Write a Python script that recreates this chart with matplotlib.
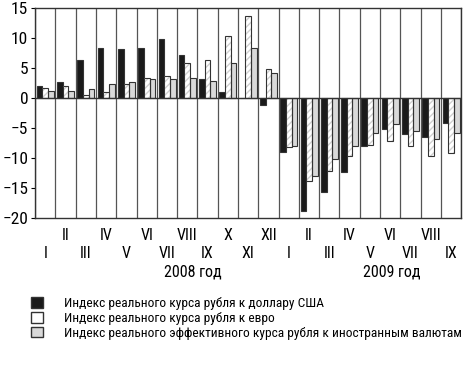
import matplotlib.pyplot as plt
import numpy as np
from matplotlib.patches import Patch
from matplotlib import font_manager

names = {f.name for f in font_manager.fontManager.ttflist}
prefs = ['Liberation Sans Narrow', 'Arial Narrow', 'Roboto Condensed', 'PT Sans Narrow',
         'Open Sans Condensed', 'Fira Sans Condensed', 'IBM Plex Sans Condensed',
         'Noto Sans Condensed', 'Archivo Narrow']
fam = next((p for p in prefs if p in names), 'DejaVu Sans')
plt.rcParams['font.family'] = [fam, 'DejaVu Sans']

months = ['I', 'II', 'III', 'IV', 'V', 'VI', 'VII', 'VIII', 'IX', 'X', 'XI', 'XII',
          'I', 'II', 'III', 'IV', 'V', 'VI', 'VII', 'VIII', 'IX']
usd = [2.0, 2.7, 6.4, 8.4, 8.1, 8.4, 9.8, 7.1, 3.2, 1.0, 0.0, -1.2,
       -9.0, -18.9, -15.6, -12.3, -8.0, -5.1, -6.0, -6.5, -4.1]
eur = [1.7, 2.0, 0.5, 1.0, 2.3, 3.4, 3.6, 5.8, 6.3, 10.4, 13.7, 4.9,
       -8.2, -13.9, -12.2, -9.7, -7.8, -7.2, -8.0, -9.7, -9.2]
eff = [1.2, 1.2, 1.5, 2.3, 2.7, 3.2, 3.2, 3.4, 2.9, 5.9, 8.4, 4.2,
       -8.0, -13.0, -10.2, -8.0, -5.8, -4.3, -5.5, -6.8, -5.8]
labels = ['Индекс реального курса рубля к доллару США',
          'Индекс реального курса рубля к евро',
          'Индекс реального эффективного курса рубля к иностранным валютам']

x = np.arange(len(months))
w = 0.28

fig = plt.figure(figsize=(4.75, 3.65), dpi=100)
ax = fig.add_axes([0.074, 0.403, 0.897, 0.575])

edge = '#333333'
ax.bar(x - w, usd, w, color='#1a1a1a', edgecolor=edge, linewidth=0.8, zorder=3)
ax.bar(x, eur, w, color='white', hatch='/////', edgecolor='#d0d0d0', linewidth=0, zorder=3)
ax.bar(x, eur, w, fill=False, edgecolor=edge, linewidth=0.8, zorder=4)
ax.bar(x + w, eff, w, color='#d9d9d9', edgecolor=edge, linewidth=0.8, zorder=3)

for b in np.arange(-0.5, len(months) + 0.5, 1):
    ax.axvline(b, color='#555555', linewidth=0.9, zorder=1)
ax.axhline(0, color='#333333', linewidth=1.0, zorder=5)

ax.set_xlim(-0.5, len(months) - 0.5)
ax.set_ylim(-20, 15)
ax.set_yticks(range(-20, 16, 5))
ax.tick_params(axis='y', labelsize=12.5, length=3, pad=2)
ax.set_xticks([])
for s in ax.spines.values():
    s.set_color('#333333')
    s.set_linewidth(1.0)

for i, m in enumerate(months):
    yy = -22.9 if i % 2 == 1 else -25.9
    ax.text(i, yy, m, ha='center', va='center', fontsize=11.5, clip_on=False)
ax.text(7.27, -29.0, '2008 год', ha='center', va='center', fontsize=11.5, clip_on=False)
ax.text(17.06, -29.0, '2009 год', ha='center', va='center', fontsize=11.5, clip_on=False)

handles = [Patch(facecolor='#1a1a1a', edgecolor=edge),
           Patch(facecolor='white', edgecolor=edge),
           Patch(facecolor='#d9d9d9', edgecolor=edge)]
fig.legend(handles, labels, loc='upper left', bbox_to_anchor=(0.055, 0.2),
           frameon=False, fontsize=9.6, handlelength=0.85, handleheight=0.85,
           handletextpad=1.6, labelspacing=0.12, borderaxespad=0)

fig.savefig('out.png', dpi=100)
